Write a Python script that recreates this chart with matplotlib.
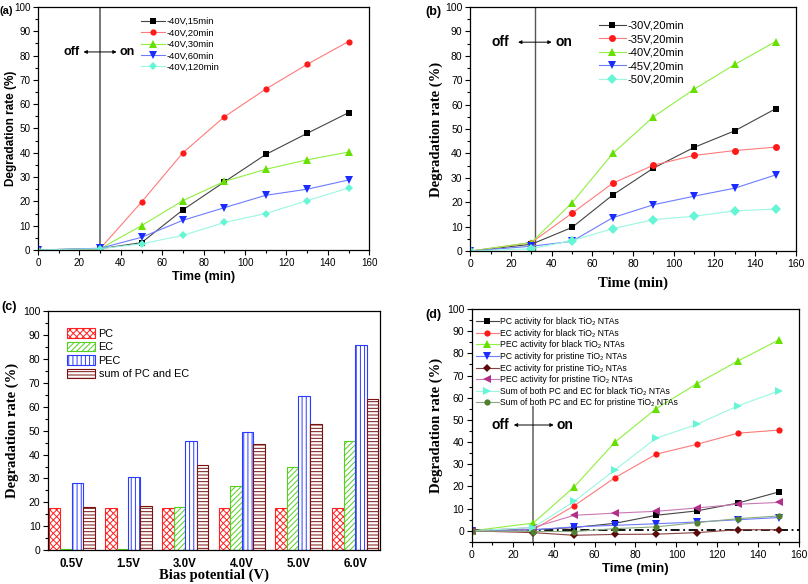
import numpy as np
import matplotlib
matplotlib.use('Agg')
import matplotlib.pyplot as plt
from matplotlib.ticker import MultipleLocator

plt.rcParams['font.family'] = ['Liberation Sans', 'DejaVu Sans']
plt.rcParams['hatch.linewidth'] = 0.7

SANS = 'Liberation Sans'
SERIF = 'Liberation Serif'

# ---- data ----
t = [0, 30, 50, 70, 90, 110, 130, 150]

a_labels = ['-40V,15min', '-40V,20min', '-40V,30min', '-40V,60min', '-40V,120min']
a_15 = [0, 0.5, 3.0, 16.5, 28.0, 39.3, 48.0, 56.5]
a_20 = [0, 0.5, 19.7, 40.0, 54.8, 66.2, 76.4, 85.8]
a_30 = [0, 0.5, 10.0, 20.3, 28.2, 33.2, 37.1, 40.3]
a_60 = [0, 0.7, 5.2, 12.2, 17.4, 22.5, 25.0, 28.8]
a_120 = [0, 0.5, 2.5, 6.0, 11.3, 15.0, 20.3, 25.5]

b_labels = ['-30V,20min', '-35V,20min', '-40V,20min', '-45V,20min', '-50V,20min']
b_30 = [0, 2.8, 9.7, 23.0, 34.0, 42.5, 49.3, 58.3]
b_35 = [0, 3.5, 15.5, 27.8, 35.2, 39.2, 41.2, 42.6]
b_40 = [0, 3.5, 19.8, 40.0, 55.0, 66.3, 76.5, 85.8]
b_45 = [0, 2.0, 4.0, 13.7, 19.0, 22.5, 25.8, 31.2]
b_50 = [0, 1.0, 4.3, 9.2, 12.9, 14.3, 16.5, 17.2]

c_cats = ['0.5V', '1.5V', '3.0V', '4.0V', '5.0V', '6.0V']
c_pc = [17.5, 17.5, 17.5, 17.5, 17.5, 17.5]
c_ec = [0.3, 0.6, 18.0, 27.0, 35.0, 45.7]
c_pec = [28.0, 30.5, 45.8, 49.3, 64.5, 85.8]
c_sum = [18.2, 18.3, 35.5, 44.6, 52.6, 63.2]

d_labels = [
    'PC activity for black TiO₂ NTAs',
    'EC activity for black TiO₂ NTAs',
    'PEC activity for black TiO₂ NTAs',
    'PC activity for pristine TiO₂ NTAs',
    'EC activity for pristine TiO₂ NTAs',
    'PEC activity for pristine TiO₂ NTAs',
    'Sum of both PC and EC for black TiO₂ NTAs',
    'Sum of both PC and EC for pristine TiO₂ NTAs',
]
d_pc_black = [0, 0.5, 1.5, 3.4, 7.0, 9.0, 12.5, 17.5]
d_ec_black = [0, 0.5, 11.3, 24.0, 34.5, 39.0, 44.0, 45.4]
d_pec_black = [0, 3.5, 19.8, 40.0, 55.0, 66.3, 76.5, 86.0]
d_pc_prist = [0, 0.5, 1.8, 2.5, 3.2, 4.0, 5.0, 6.0]
d_ec_prist = [0, -0.8, -2.0, -1.6, -1.5, -0.8, 0.5, 0.5]
d_pec_prist = [0, 1.5, 7.0, 8.0, 8.8, 10.3, 12.0, 12.8]
d_sum_black = [0, 1.5, 13.3, 27.5, 41.7, 48.0, 56.3, 63.0]
d_sum_prist = [0, -0.3, -0.3, 1.0, 1.8, 3.7, 5.5, 6.7]

# marker colour, line colour (lines are drawn in a lighter tint)
BLACK = ('#000000', '#444444')
RED = ('#ff1a1a', '#ff7a7a')
GREEN = ('#66e000', '#8ff040')
BLUE = ('#1a2cff', '#6d7cff')
CYAN = ('#66f5d5', '#9af8e2')
DKRED = ('#5a0a0a', '#8a4040')
PURPLE = ('#b0308a', '#cc77b5')
OLIVE = ('#4f7f2f', '#8aaa80')
five_colors = [BLACK, RED, GREEN, BLUE, CYAN]
five_markers = ['s', 'o', '^', 'v', 'D']


def style_axes(ax, ylab, xlab, ylab_font, xlab_font, ylab_size, xlab_size, ypos, xpos):
    ax.tick_params(which='both', direction='out', labelsize=7.5, width=0.8, pad=2)
    ax.tick_params(which='major', length=3.5)
    ax.tick_params(which='minor', length=2)
    for s in ax.spines.values():
        s.set_linewidth(0.9)
    ax.set_ylabel(ylab, fontfamily=ylab_font, fontweight='bold', fontsize=ylab_size)
    ax.set_xlabel(xlab, fontfamily=xlab_font, fontweight='bold', fontsize=xlab_size)
    ax.yaxis.set_label_coords(ypos, 0.5)
    ax.xaxis.set_label_coords(0.5, xpos)


def off_on(ax, x0, x1, y, xoff, xon, size):
    ax.annotate('', xy=(x0, y), xytext=(x1, y),
                arrowprops=dict(arrowstyle='<|-|>', lw=0.7, color='black',
                                mutation_scale=5, shrinkA=0, shrinkB=0))
    ax.text(xoff, y, 'off', ha='right', va='center', fontweight='bold', fontsize=size)
    ax.text(xon, y, 'on', ha='left', va='center', fontweight='bold', fontsize=size)


def draw_series(ax, series, labels, colors, markers, big, small):
    for ys, lab, (mc, lc), m in zip(series, labels, colors, markers):
        ms = small if m in ('s', 'o', 'D') else big
        ax.plot(t, ys, color=lc, lw=0.8, marker=m, ms=ms, mfc=mc, mec=mc,
                markeredgewidth=0, label=lab)


fig = plt.figure(figsize=(8.08, 5.84), dpi=100)

# ---- (a) ----
ax = fig.add_axes([0.047, 0.572, 0.410, 0.416])
draw_series(ax, [a_15, a_20, a_30, a_60, a_120], a_labels, five_colors, five_markers, 5.5, 4.5)
ax.axvline(30, color='#777777', lw=1.4, zorder=0)
off_on(ax, 22, 38, 81.5, 20, 39.5, 9)
ax.set_xlim(0, 160)
ax.set_ylim(0, 100)
ax.xaxis.set_major_locator(MultipleLocator(20))
ax.xaxis.set_minor_locator(MultipleLocator(10))
ax.yaxis.set_major_locator(MultipleLocator(10))
ax.yaxis.set_minor_locator(MultipleLocator(5))
style_axes(ax, 'Degradation rate (%)', 'Time (min)', SANS, SANS, 8.5, 9, -0.063, -0.086)
ax.tick_params(labelsize=7.1)
ax.legend(loc='upper left', bbox_to_anchor=(0.29, 0.985), frameon=False, fontsize=6.8,
          handlelength=2.6, handletextpad=0.15, labelspacing=0.25, borderpad=0.2)
fig.text(0.0, 0.976, '(a)', fontweight='bold', fontsize=8)

# ---- (b) ----
ax = fig.add_axes([0.582, 0.570, 0.403, 0.418])
draw_series(ax, [b_30, b_35, b_40, b_45, b_50], b_labels, five_colors, five_markers, 6, 5)
ax.axvline(32, color='#555555', lw=1.0, zorder=0)
off_on(ax, 23.5, 40, 85.6, 19, 42, 10)
ax.set_xlim(0, 160)
ax.set_ylim(0, 100)
ax.xaxis.set_major_locator(MultipleLocator(20))
ax.xaxis.set_minor_locator(MultipleLocator(10))
ax.yaxis.set_major_locator(MultipleLocator(10))
ax.yaxis.set_minor_locator(MultipleLocator(5))
style_axes(ax, 'Degradation rate (%)', 'Time (min)', SERIF, SERIF, 10.5, 10.5, -0.083, -0.102)
ax.legend(loc='upper left', bbox_to_anchor=(0.37, 0.975), frameon=False, fontsize=8.1,
          handlelength=2.4, handletextpad=0.15, labelspacing=0.3, borderpad=0.2)
fig.text(0.527, 0.975, '(b)', fontweight='bold', fontsize=9)

# ---- (c) ----
ax = fig.add_axes([0.0594, 0.058, 0.411, 0.409])
x = np.arange(1, len(c_cats) + 1)
w = 0.205
specs = [(c_pc, 'PC', '#ff2020', 'xxxxx'),
         (c_ec, 'EC', '#55d020', '//////'),
         (c_pec, 'PEC', '#2a3cff', '||||'),
         (c_sum, 'sum of PC and EC', '#7a1010', '-----')]
for i, (vals, lab, col, h) in enumerate(specs):
    ax.bar(x + (i - 1.5) * w, vals, width=w, facecolor='white', edgecolor=col,
           hatch=h, lw=0.8, label=lab)
ax.set_xlim(0.58, 6.44)
ax.set_ylim(0, 100)
ax.set_xticks(x)
ax.set_xticklabels(c_cats, fontweight='bold')
ax.yaxis.set_major_locator(MultipleLocator(10))
ax.yaxis.set_minor_locator(MultipleLocator(5))
style_axes(ax, 'Degradation rate (%)', 'Bias potential (V)', SERIF, SERIF, 10.5, 10.5, -0.087, -0.079)
ax.tick_params(axis='x', which='both', length=0, labelsize=8.3, pad=6)
ax.legend(loc='upper left', bbox_to_anchor=(0.035, 0.96), frameon=False, fontsize=7.8,
          handlelength=2.6, handleheight=0.95, handletextpad=0.3, labelspacing=0.28,
          borderpad=0.2)
fig.text(0.002, 0.47, '(c)', fontweight='bold', fontsize=9)

# ---- (d) ----
ax = fig.add_axes([0.584, 0.072, 0.405, 0.399])
d_series = [d_pc_black, d_ec_black, d_pec_black, d_pc_prist,
            d_ec_prist, d_pec_prist, d_sum_black, d_sum_prist]
d_colors = [BLACK, RED, GREEN, BLUE, DKRED, PURPLE, CYAN, OLIVE]
d_markers = ['s', 'o', '^', 'v', 'D', '<', '>', 'o']
draw_series(ax, d_series, d_labels, d_colors, d_markers, 5.5, 4.5)
ax.axhline(0.5, color='black', lw=1.3, ls=(0, (5, 2, 1, 2)), zorder=1)
ax.plot([30, 30], [-5, 56], color='#777777', lw=1.3, zorder=0)
off_on(ax, 20.5, 40, 47.7, 18, 41.5, 10)
ax.set_xlim(0, 160)
ax.set_ylim(-5, 100)
ax.xaxis.set_major_locator(MultipleLocator(20))
ax.xaxis.set_minor_locator(MultipleLocator(10))
ax.set_yticks(np.arange(0, 101, 10))
ax.yaxis.set_minor_locator(MultipleLocator(5))
style_axes(ax, 'Degradation rate (%)', 'Time (min)', SERIF, SANS, 10.5, 9.5, -0.089, -0.09)
ax.legend(loc='upper left', bbox_to_anchor=(-0.005, 0.99), frameon=False, fontsize=6.2,
          handlelength=2.6, handletextpad=0.2, labelspacing=0.3, borderpad=0.2)
fig.text(0.527, 0.455, '(d)', fontweight='bold', fontsize=9)

fig.savefig('out.png', dpi=100)
